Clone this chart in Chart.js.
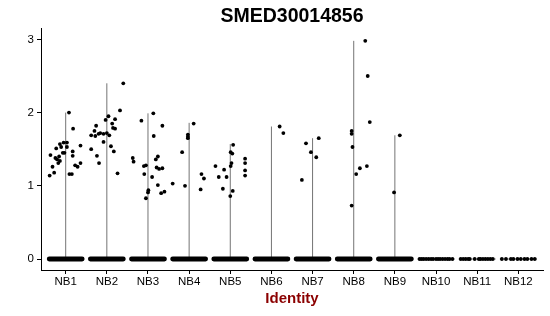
<!DOCTYPE html>
<html><head><meta charset="utf-8">
<script src="https://cdn.jsdelivr.net/npm/chart.js@4.4.1/dist/chart.umd.min.js"></script>
<style>html,body{margin:0;padding:0;background:#fff;}</style>
</head><body>
<canvas id="c" width="550" height="316" style="display:block;width:550px;height:316px"></canvas>
<script>
const title = 'SMED30014856';
const xTitle = 'Identity';
const categories = ['NB1','NB2','NB3','NB4','NB5','NB6','NB7','NB8','NB9','NB10','NB11','NB12'];
const yTicks = [0, 1, 2, 3];
// top of each violin (max expression per identity)
const violinMax = [2.00, 2.40, 1.99, 1.86, 1.57, 1.81, 1.65, 2.98, 1.69, 0, 0, 0];
// identities whose many zero-valued cells form a solid band
const denseZero = [true, true, true, true, true, true, true, true, true, false, false, false];
// non-zero cells: [jitter, expression]
const NB1 = [[0.08,2.00],[0.18,1.78],[0.36,1.55],[0.03,1.59],[-0.05,1.59],[-0.14,1.57],[-0.23,1.51],[-0.11,1.53],[0.03,1.53],[-0.07,1.45],[-0.03,1.45],[-0.37,1.42],[-0.25,1.38],[-0.21,1.36],[-0.14,1.34],[-0.18,1.31],[0.17,1.47],[0.17,1.41],[0.36,1.31],[0.23,1.28],[0.29,1.26],[-0.32,1.26],[-0.28,1.18],[-0.39,1.14],[0.09,1.16],[0.15,1.16],[-0.16,1.40]];
const NB2 = [[0.40,2.40],[0.32,2.03],[0.04,1.95],[-0.03,1.90],[0.20,1.91],[0.13,1.85],[0.15,1.79],[0.20,1.78],[-0.26,1.82],[-0.30,1.75],[-0.38,1.69],[-0.20,1.71],[-0.16,1.72],[-0.08,1.71],[0.00,1.72],[0.06,1.69],[-0.28,1.68],[-0.08,1.60],[0.10,1.54],[-0.38,1.50],[-0.24,1.41],[0.17,1.47],[-0.19,1.31],[0.26,1.17]];
const NB3 = [[0.13,1.99],[-0.16,1.89],[0.35,1.82],[0.14,1.68],[-0.37,1.38],[-0.35,1.33],[0.24,1.40],[0.19,1.36],[-0.10,1.27],[-0.05,1.28],[0.21,1.25],[0.27,1.23],[0.35,1.24],[-0.09,1.16],[0.10,1.12],[0.24,1.01],[0.01,0.94],[0.00,0.91],[0.40,0.92],[0.32,0.90],[-0.05,0.83]];
const NB4 = [[0.11,1.85],[-0.17,1.46],[-0.03,1.70],[-0.03,1.67],[-0.03,1.65],[-0.40,1.03],[-0.10,1.00],[0.30,1.16],[0.36,1.10],[0.28,0.95]];
const NB5 = [[-0.36,1.27],[-0.15,1.22],[-0.28,1.12],[-0.09,1.12],[-0.18,0.96],[0.07,1.56],[0.01,1.46],[0.05,1.44],[0.03,1.31],[0.01,1.27],[0.06,0.93],[0.00,0.86],[0.36,1.37],[0.36,1.31],[0.36,1.21],[0.36,1.14]];
const NB6 = [[0.20,1.81],[0.29,1.72]];
const NB7 = [[-0.16,1.58],[0.15,1.65],[-0.04,1.46],[0.09,1.39],[-0.26,1.08]];
const NB8 = [[0.28,2.98],[0.34,2.50],[0.39,1.87],[-0.05,1.75],[-0.05,1.71],[-0.03,1.53],[0.32,1.27],[0.15,1.24],[0.06,1.16],[-0.05,0.73]];
const NB9 = [[0.12,1.69],[-0.02,0.91]];
const NB10 = [];
const NB11 = [];
const NB12 = [];
// jitter of the zero-valued cells of the sparse identities
const zeroNB10 = [-0.40,-0.35,-0.30,-0.24,-0.18,-0.12,-0.07,0,0.05,0.10,0.16,0.22,0.28,0.33,0.40];
const zeroNB11 = [-0.40,-0.34,-0.28,-0.22,-0.18,-0.06,0.04,0.08,0.14,0.20,0.26,0.32,0.38];
const zeroNB12 = [-0.40,-0.30,-0.18,-0.12,-0.02,0.06,0.15,0.22,0.32,0.40];

const nonZero = [NB1,NB2,NB3,NB4,NB5,NB6,NB7,NB8,NB9,NB10,NB11,NB12];
const sparseZero = {9: zeroNB10, 10: zeroNB11, 11: zeroNB12};

const FONT = "'Liberation Sans', Arial, Helvetica, sans-serif";
const outline = 'rgba(0,0,0,0.55)';
const datasets = [];
categories.forEach((c, i) => {
  const x = i + 1;
  datasets.push({data:[{x:x-0.45,y:0},{x:x+0.45,y:0}], showLine:true, borderColor:outline, borderWidth:1, pointRadius:0});
  if (violinMax[i] > 0) {
    datasets.push({data:[{x:x,y:0},{x:x,y:violinMax[i]}], showLine:true, borderColor:outline, borderWidth:1, pointRadius:0});
  }
  if (denseZero[i]) {
    datasets.push({data:[{x:x-0.4,y:0},{x:x+0.4,y:0}], showLine:true, borderColor:'#000', borderWidth:4.8, borderCapStyle:'round', pointRadius:0});
  }
});
const pts = [];
nonZero.forEach((arr, i) => arr.forEach(([dx, y]) => pts.push({x: i + 1 + dx, y})));
Object.keys(sparseZero).forEach(k => sparseZero[k].forEach(dx => pts.push({x: +k + 1 + dx, y: 0})));
datasets.push({data: pts, pointRadius: 1.9, pointBackgroundColor:'#000', pointBorderWidth:0, showLine:false});

new Chart(document.getElementById('c'), {
  type: 'scatter',
  data: {datasets},
  options: {
    responsive: false, animation: false, devicePixelRatio: 1,
    layout: {padding: {left: 0, right: 7, top: 0, bottom: 0}},
    plugins: {
      legend: {display: false}, tooltip: {enabled: false},
      title: {display: true, text: title, fullSize: false, color: '#000',
        font: {family: FONT, size: 19.5, weight: 'bold'}, padding: {top: 4.5, bottom: 0.5}}
    },
    scales: {
      x: {
        type: 'linear', min: 0.4, max: 12.6,
        afterBuildTicks: s => { s.ticks = categories.map((c, i) => ({value: i + 1})); },
        afterFit: s => { s.height = 46; },
        ticks: {autoSkip: false, maxRotation: 0, color: '#000', padding: 1,
          font: {family: FONT, size: 11.5}, callback: v => categories[v - 1]},
        grid: {drawOnChartArea: false, drawTicks: true, tickLength: 4, color: '#000'},
        border: {display: true, color: '#000', width: 1},
        title: {display: true, text: xTitle, color: '#8B0000',
          font: {family: FONT, size: 15, weight: 'bold'}, padding: {top: 0, bottom: 8}}
      },
      y: {
        type: 'linear', min: -0.15, max: 3.15,
        afterBuildTicks: s => { s.ticks = yTicks.map(v => ({value: v})); },
        afterFit: s => { s.width = 41; },
        ticks: {color: '#000', padding: 3, font: {family: FONT, size: 11.5}},
        grid: {drawOnChartArea: false, drawTicks: true, tickLength: 4, color: '#000'},
        border: {display: true, color: '#000', width: 1}
      }
    }
  }
});
</script>
</body></html>
